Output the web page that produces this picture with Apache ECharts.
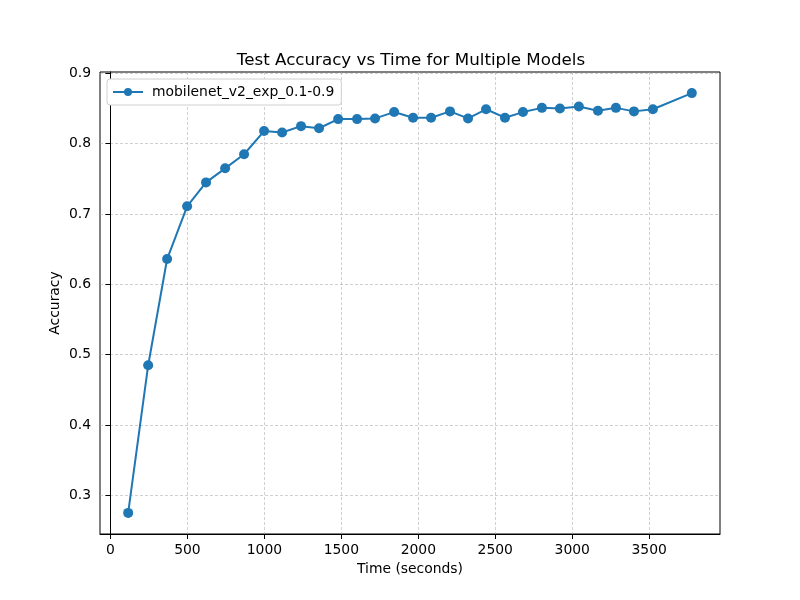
<!DOCTYPE html>
<html>
<head>
    <meta charset="utf-8">
    <script src="https://cdn.jsdelivr.net/npm/echarts@6.0.0/dist/echarts.min.js"></script>
</head>
<body style="margin:0">
    <div id="main" style="width:800px;height:600px"></div>
    <script type="text/javascript">
        // time (s) and test accuracy
        var seriesName = 'mobilenet_v2_exp_0.1-0.9';
        var times = [115, 245, 368, 498, 621, 745, 868, 998, 1115, 1238,
                     1355, 1479, 1602, 1719, 1843, 1966, 2083, 2206, 2323, 2440,
                     2563, 2680, 2803, 2920, 3043, 3167, 3284, 3401, 3524, 3777];
        var accuracy = [0.275, 0.485, 0.636, 0.711, 0.745, 0.765, 0.785, 0.818, 0.816, 0.825,
                        0.822, 0.835, 0.835, 0.836, 0.845, 0.837, 0.837, 0.846, 0.836, 0.849,
                        0.837, 0.845, 0.851, 0.850, 0.853, 0.847, 0.851, 0.846, 0.849, 0.872];
        var xTicks = [0, 500, 1000, 1500, 2000, 2500, 3000, 3500];
        var yTicks = [0.3, 0.4, 0.5, 0.6, 0.7, 0.8, 0.9];

        var font = 'DejaVu Sans';
        var points = times.map(function (t, i) { return [t, accuracy[i]]; });

        var myChart = echarts.init(document.getElementById('main'));
        var option = {
            animation: false,
            backgroundColor: '#fff',
            title: {
                text: 'Test Accuracy vs Time for Multiple Models',
                left: 406, textAlign: 'center', top: 47,
                textStyle: { fontFamily: font, fontSize: 16.7, fontWeight: 'normal', color: '#000' }
            },
            legend: {
                left: 107, top: 79,
                padding: [6, 7, 6, 5],
                backgroundColor: '#fff',
                borderColor: '#d0d0d0', borderWidth: 1, borderRadius: 3,
                itemWidth: 30, itemHeight: 10, itemGap: 8,
                textStyle: { fontFamily: font, fontSize: 13.9, color: '#000', padding: [0, 0, 0, 4] },
                data: [seriesName]
            },
            grid: {
                left: 100, right: 80, top: 72, bottom: 66,
                show: true, borderColor: '#000', borderWidth: 1
            },
            xAxis: {
                type: 'value', min: -68, max: 3960,
                name: 'Time (seconds)', nameLocation: 'middle', nameGap: 28,
                nameMoveOverlap: false,
                nameTextStyle: { fontFamily: font, fontSize: 13.9, color: '#000' },
                axisLine: { lineStyle: { color: '#000' } },
                axisTick: { show: true, length: 5, customValues: xTicks, lineStyle: { color: '#000' } },
                axisLabel: {
                    customValues: xTicks, margin: 9, fontFamily: font, fontSize: 13.9, color: '#000',
                    formatter: function (v) { return String(v); }
                },
                splitLine: { show: true, lineStyle: { color: '#b0b0b0', type: [3, 2], width: 0.6 } }
            },
            yAxis: {
                type: 'value', min: 0.245, max: 0.902,
                name: 'Accuracy', nameLocation: 'middle', nameGap: 38,
                nameMoveOverlap: false,
                nameTextStyle: { fontFamily: font, fontSize: 13.9, color: '#000' },
                axisLine: { show: true, lineStyle: { color: '#000' } },
                axisTick: { show: true, length: 5, customValues: yTicks, lineStyle: { color: '#000' } },
                axisLabel: {
                    customValues: yTicks, margin: 9, fontFamily: font, fontSize: 13.9, color: '#000',
                    formatter: function (v) { return v.toFixed(1); }
                },
                splitLine: { show: true, lineStyle: { color: '#b0b0b0', type: [3, 2], width: 0.6 } }
            },
            series: [{
                name: seriesName,
                type: 'line',
                data: points,
                symbol: 'circle', symbolSize: 10,
                color: '#1f77b4',
                lineStyle: { width: 2 },
                itemStyle: { color: '#1f77b4' }
            }]
        };
        myChart.setOption(option);
    </script>
</body>
</html>
